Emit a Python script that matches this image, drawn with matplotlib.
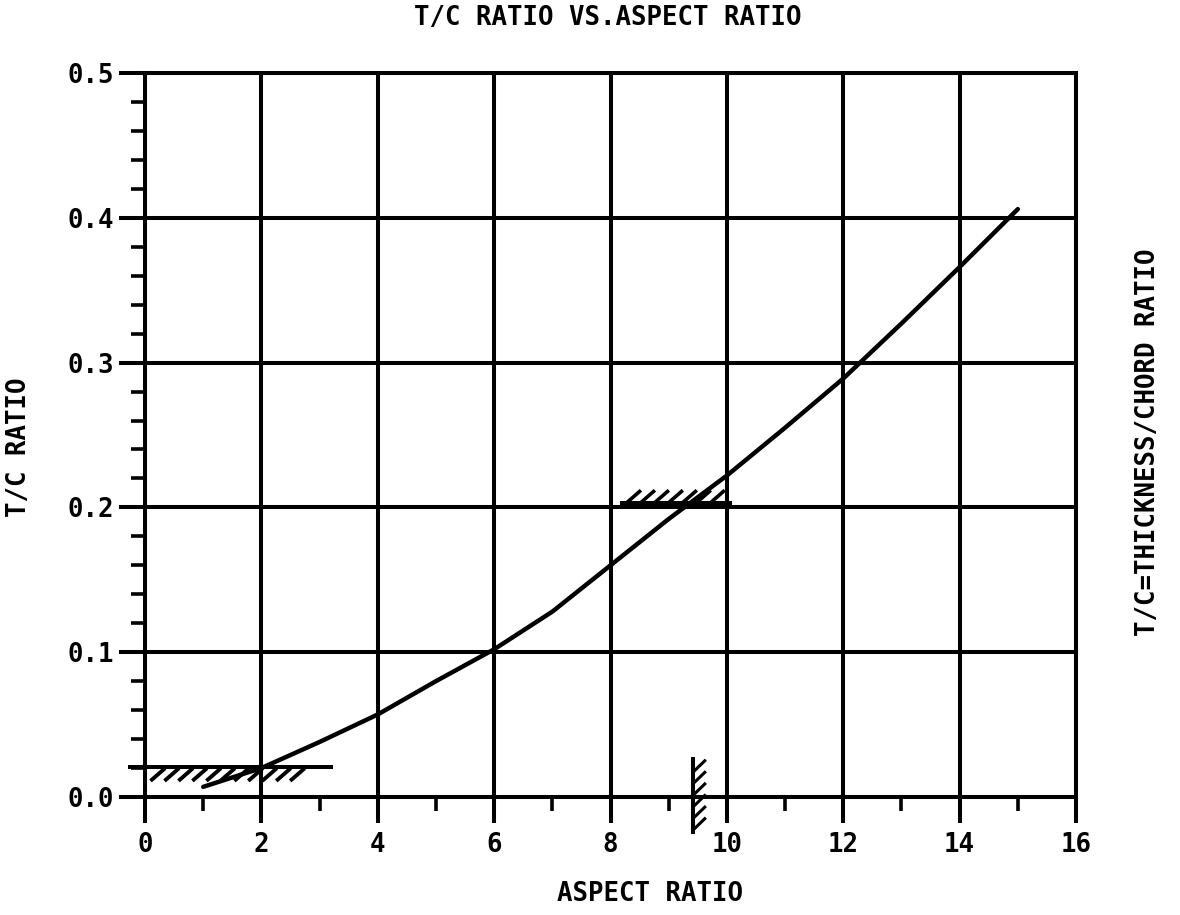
import numpy as np
import matplotlib
matplotlib.use('Agg')
import matplotlib.pyplot as plt
from matplotlib.ticker import MultipleLocator

# T/C ratio
aspect_ratio = [1, 2, 3, 4, 5, 6, 7, 8, 9, 10, 11, 12, 13, 14, 15]
tc_ratio = [0.007, 0.020, 0.038, 0.057, 0.080, 0.102, 0.128, 0.160,
            0.192, 0.222, 0.255, 0.289, 0.327, 0.366, 0.406]

# design limits (hatched on the allowed side)
tc_floor = 0.021          # minimum T/C
tc_floor_span = (-0.25, 3.2)
tc_band = 0.203           # T/C limit near AR 8-10
tc_band_span = (8.2, 10.05)
ar_limit = 9.42           # aspect ratio limit
ar_limit_span = (-0.024, 0.026)

x_ticks = list(range(0, 17, 2))
y_ticks = [0.0, 0.1, 0.2, 0.3, 0.4, 0.5]

FONT = 'DejaVu Sans Mono'
FS = 18.5
LW = 2.9

fig = plt.figure(figsize=(11.8, 9.15), dpi=100)
ax = fig.add_axes([145 / 1180, 1 - 797 / 915, 931 / 1180, 724 / 915])

ax.plot(aspect_ratio, tc_ratio, color='black', lw=3.2, solid_capstyle='round', zorder=5)

# hatched limit lines
ax.plot(tc_floor_span, [tc_floor, tc_floor], color='black', lw=LW, clip_on=False)
for x0 in np.arange(0.12, 2.75, 0.24):
    ax.plot([x0, x0 + 0.2], [tc_floor - 0.009, tc_floor - 0.002], color='black', lw=2.8)

ax.plot(tc_band_span, [tc_band, tc_band], color='black', lw=LW)
for x0 in np.arange(8.3, 9.9, 0.24):
    ax.plot([x0, x0 + 0.2], [tc_band + 0.001, tc_band + 0.008], color='black', lw=2.6)

ax.plot([ar_limit, ar_limit], ar_limit_span, color='black', lw=LW, clip_on=False)
for y0 in np.arange(ar_limit_span[0] + 0.002, ar_limit_span[1] - 0.004, 0.008):
    ax.plot([ar_limit + 0.02, ar_limit + 0.2], [y0, y0 + 0.007], color='black', lw=2.2,
            clip_on=False)

ax.set_xlim(0, 16)
ax.set_ylim(0, 0.5)
ax.set_xticks(x_ticks)
ax.set_yticks(y_ticks)
ax.xaxis.set_minor_locator(MultipleLocator(1))
ax.yaxis.set_minor_locator(MultipleLocator(0.02))
ax.set_xticklabels([str(v) for v in x_ticks])
ax.set_yticklabels([f'{v:.1f}' for v in y_ticks])
ax.grid(True, which='major', color='black', lw=LW)
for s in ax.spines.values():
    s.set_linewidth(LW)
ax.tick_params(which='major', direction='out', length=19, width=LW, labelsize=FS)
ax.tick_params(axis='x', which='major', pad=6)
ax.tick_params(axis='y', which='major', pad=3)
ax.tick_params(which='minor', direction='out', length=10, width=2.6)
for lab in ax.get_xticklabels() + ax.get_yticklabels():
    lab.set_fontfamily(FONT)
    lab.set_fontweight('bold')

fig.text(0.515, 0.980, 'T/C RATIO VS.ASPECT RATIO', ha='center', va='center',
         fontsize=FS, fontfamily=FONT, fontweight='bold')
fig.text(0.551, 0.023, 'ASPECT RATIO', ha='center', va='center',
         fontsize=FS, fontfamily=FONT, fontweight='bold')
fig.text(0.016, 0.511, 'T/C RATIO', ha='center', va='center', rotation=90,
         fontsize=FS, fontfamily=FONT, fontweight='bold')
fig.text(0.973, 0.517, 'T/C=THICKNESS/CHORD RATIO', ha='center', va='center',
         rotation=90, fontsize=FS, fontfamily=FONT, fontweight='bold')

fig.savefig('out.png', dpi=100)
